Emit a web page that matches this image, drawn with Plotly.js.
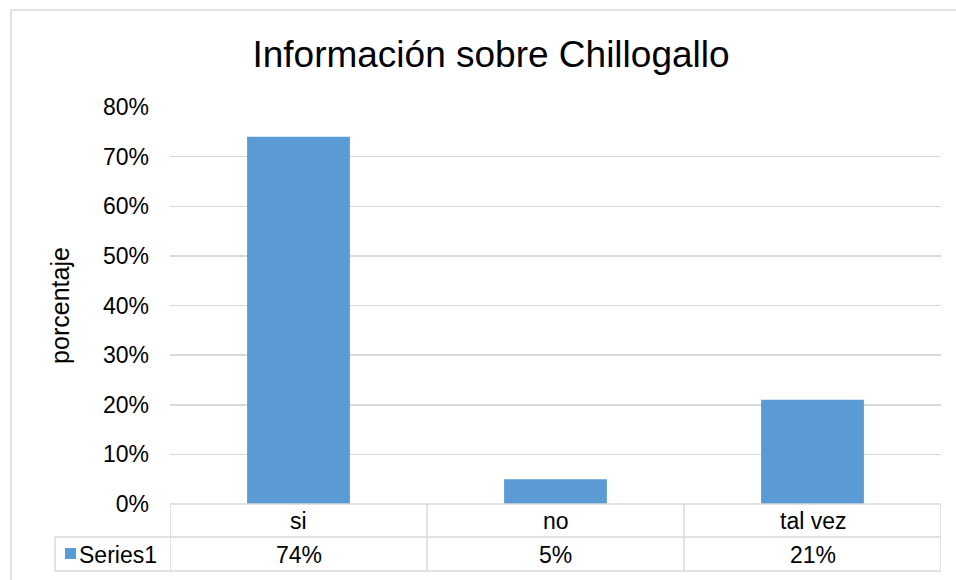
<!DOCTYPE html>
<html>
<head>
<meta charset="utf-8">
<script src="https://cdn.plot.ly/plotly-3.0.1.min.js"></script>
<style>html,body{margin:0;padding:0;background:#fff;}#chart{width:956px;height:580px;}</style>
</head>
<body>
<div id="chart"></div>
<script>
const categories = ["si", "no", "tal vez"];
const values = [0.74, 0.05, 0.21];
const seriesName = "Series1";
const yTickValues = [0, 0.1, 0.2, 0.3, 0.4, 0.5, 0.6, 0.7, 0.8];

const barColor = "#5b9bd5";
const lineColor = "#d9d9d9";
const font = "Liberation Sans, Arial, sans-serif";
const textSize = 23;

const plotH = 397, plotW = 771, left = 170;
const py = px => -(px - 504) / plotH;   // pixel y -> paper y
const pxX = px => (px - left) / plotW;  // pixel x -> paper x

const shapes = [];
const annotations = [];
// outer frame (left and top)
shapes.push({type:"line", xref:"paper", yref:"paper", x0:pxX(11), x1:pxX(11), y0:py(10), y1:py(600), line:{color:lineColor, width:1.5}});
shapes.push({type:"line", xref:"paper", yref:"paper", x0:pxX(11), x1:pxX(1000), y0:py(10), y1:py(10), line:{color:lineColor, width:1.5}});
// table horizontal lines
shapes.push({type:"line", xref:"paper", yref:"paper", x0:0, x1:1, y0:py(504), y1:py(504), line:{color:lineColor, width:1.5}});
shapes.push({type:"line", xref:"paper", yref:"paper", x0:pxX(55), x1:1, y0:py(537), y1:py(537), line:{color:lineColor, width:1.5}});
shapes.push({type:"line", xref:"paper", yref:"paper", x0:pxX(55), x1:1, y0:py(571), y1:py(571), line:{color:lineColor, width:1.5}});
// table vertical lines
shapes.push({type:"line", xref:"paper", yref:"paper", x0:pxX(55), x1:pxX(55), y0:py(537), y1:py(571), line:{color:lineColor, width:1.5}});
for (let i = 0; i <= categories.length; i++) {
  shapes.push({type:"line", xref:"x", yref:"paper", x0:i-0.5, x1:i-0.5, y0:py(504), y1:py(571), line:{color:lineColor, width:1.5}});
}
// legend key
shapes.push({type:"rect", xref:"paper", yref:"paper", x0:pxX(65), x1:pxX(76), y0:py(559), y1:py(548), fillcolor:barColor, line:{width:0}});
annotations.push({xref:"paper", yref:"paper", x:pxX(77), y:py(555), xanchor:"left", yanchor:"middle", text:seriesName, showarrow:false, font:{family:font, size:textSize, color:"#000"}});

categories.forEach((c, i) => {
  annotations.push({xref:"x", yref:"paper", x:i, y:py(521), xanchor:"center", yanchor:"middle", text:c, showarrow:false, font:{family:font, size:textSize, color:"#000"}});
  annotations.push({xref:"x", yref:"paper", x:i, y:py(555), xanchor:"center", yanchor:"middle", text:Math.round(values[i]*100) + "%", showarrow:false, font:{family:font, size:textSize, color:"#000"}});
});

const data = [{
  type: "bar",
  x: categories,
  y: values,
  name: seriesName,
  marker: {color: barColor},
  width: 0.4,
  hoverinfo: "none"
}];

const layout = {
  width: 956, height: 580,
  margin: {l: left, r: 956 - 941, t: 107, b: 580 - 504, pad: 0},
  paper_bgcolor: "#fff", plot_bgcolor: "#fff",
  showlegend: false,
  title: {text: "Información sobre Chillogallo", font: {family: font, size: 37, color: "#000"}, x: 491/956, xref: "container", xanchor: "center", y: 1 - 54/580, yref: "container", yanchor: "middle"},
  xaxis: {type: "category", showticklabels: false, showgrid: false, zeroline: false, showline: false, ticks: "", range: [-0.5, 2.5], fixedrange: true},
  yaxis: {
    range: [0, 0.8], tickvals: yTickValues, tickformat: ".0%",
    showgrid: true, gridcolor: lineColor, gridwidth: 1.5, zeroline: false, showline: false, ticks: "",
    tickfont: {family: font, size: textSize, color: "#000"}, ticklabelstandoff: 20,
    title: {text: "porcentaje", font: {family: font, size: 25, color: "#000"}, standoff: 26},
    fixedrange: true
  },
  shapes: shapes,
  annotations: annotations
};

Plotly.newPlot("chart", data, layout, {displayModeBar: false, staticPlot: true});
</script>
</body>
</html>
